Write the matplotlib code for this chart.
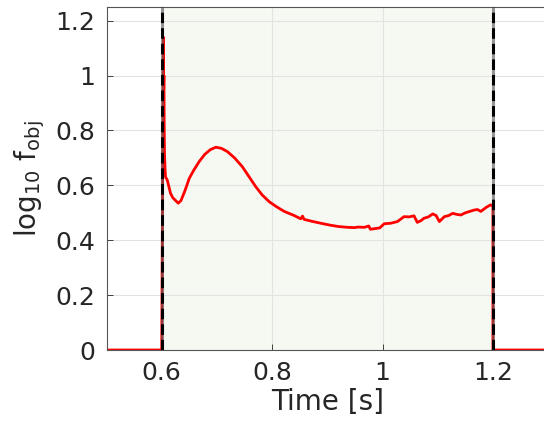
import matplotlib.pyplot as plt
import numpy as np

# objective history (time in s, log10 f_obj)
t_obj = [0.5, 0.6, 0.603, 0.6035, 0.604, 0.6045, 0.605, 0.606,
         0.607, 0.610, 0.613, 0.616, 0.620, 0.625, 0.630, 0.635,
         0.642, 0.650, 0.658, 0.668, 0.678, 0.688, 0.698, 0.708,
         0.719, 0.732, 0.746, 0.758, 0.770, 0.782, 0.795, 0.808,
         0.822, 0.840, 0.852, 0.855, 0.858, 0.870, 0.888, 0.905,
         0.920, 0.937, 0.950, 0.955, 0.967, 0.975, 0.978, 0.985,
         0.995, 1.003, 1.015, 1.027, 1.039, 1.048, 1.057, 1.063,
         1.070, 1.075, 1.083, 1.091, 1.097, 1.103, 1.112, 1.120,
         1.127, 1.135, 1.142, 1.150, 1.158, 1.166, 1.172, 1.178,
         1.188, 1.196, 1.2, 1.2, 1.3]
f_obj = [0.0, 0.0, 1.14, 0.95, 1.0, 0.82, 0.72, 0.66,
         0.63, 0.62, 0.595, 0.571, 0.555, 0.545, 0.535, 0.545,
         0.58, 0.626, 0.655, 0.687, 0.713, 0.73, 0.739, 0.735,
         0.723, 0.70, 0.668, 0.632, 0.596, 0.565, 0.54, 0.522,
         0.505, 0.49, 0.478, 0.488, 0.476, 0.47, 0.462, 0.455,
         0.45, 0.447, 0.446, 0.448, 0.447, 0.452, 0.44, 0.442,
         0.445, 0.46, 0.462, 0.468, 0.486, 0.485, 0.489, 0.465,
         0.472, 0.48, 0.485, 0.496, 0.49, 0.468, 0.486, 0.49,
         0.498, 0.494, 0.492, 0.5, 0.505, 0.51, 0.512, 0.505,
         0.52, 0.529, 0.525, 0.0, 0.0]

window = [0.6, 1.2]   # optimisation window
xticks = [0.6, 0.8, 1.0, 1.2]
xticklabels = ['0.6', '0.8', '1', '1.2']
yticks = [0, 0.2, 0.4, 0.6, 0.8, 1.0, 1.2]
yticklabels = ['0', '0.2', '0.4', '0.6', '0.8', '1', '1.2']

plt.rcParams['font.family'] = 'DejaVu Sans'
fig = plt.figure(figsize=(5.44, 4.26), dpi=100)
ax = fig.add_axes([0.1958, 0.1784, 0.8118, 0.8052])

ax.axvspan(window[0], window[1], color='#f6f9f1', zorder=0.1, lw=0)
ax.plot(t_obj, f_obj, color='#ff0000', lw=2, zorder=2)
for xv in window:
    ax.plot([xv, xv], [0, 1.25], color='black', lw=2.2, ls=(0, (3.5, 1.6)),
            gapcolor=(0.35, 0.35, 0.35, 0.6), zorder=3)

ax.set_xlim(0.5, 1.3)
ax.set_ylim(0, 1.25)
ax.set_xticks(xticks)
ax.set_xticklabels(xticklabels)
ax.set_yticks(yticks)
ax.set_yticklabels(yticklabels)
ax.grid(True, color='#e3e3e3', lw=0.8)
ax.set_axisbelow(True)
ax.tick_params(direction='in', length=4, width=0.6, labelsize=18,
               colors='#262626', top=False, right=False, pad=8)
for s in ax.spines.values():
    s.set_color('#555555')
    s.set_linewidth(0.8)
ax.spines['right'].set_visible(False)

ax.set_xlabel('Time [s]', fontsize=20, color='#262626', labelpad=2)
ax.set_ylabel(r'log$_{10}$ f$_{\mathrm{obj}}$', fontsize=20, color='#262626', labelpad=6)

fig.savefig('out.png', dpi=100)
